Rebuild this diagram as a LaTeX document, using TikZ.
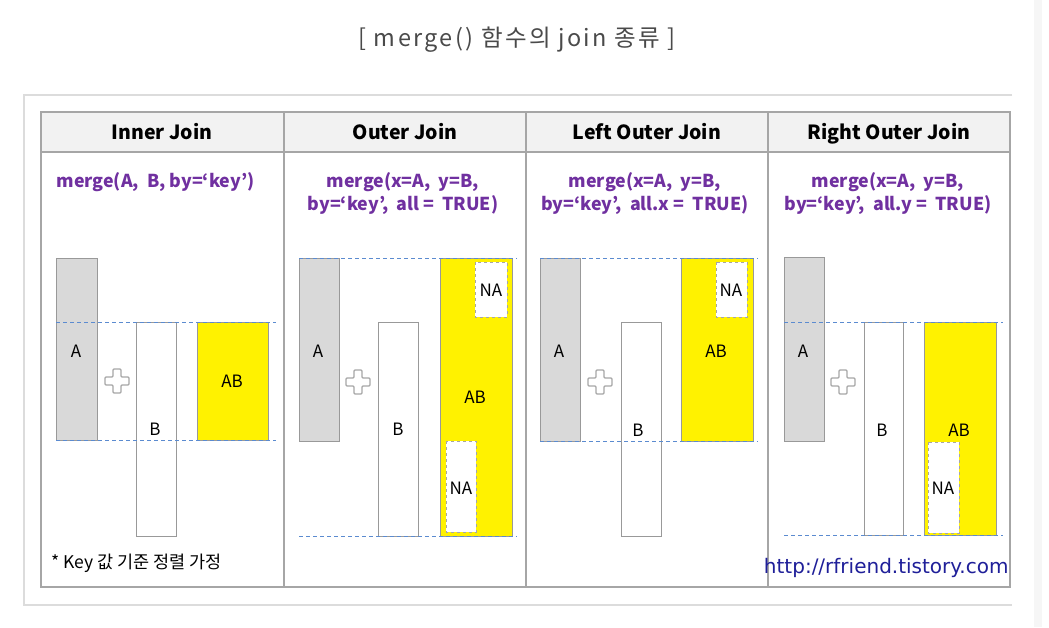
\documentclass[tikz,border=0pt]{standalone}
\usepackage{fontspec}
\setmainfont{Noto Sans CJK KR}
\newfontfamily\urlfont{DejaVu Sans}
\newfontfamily\titlefont[LetterSpace=10]{Noto Sans CJK KR}
\definecolor{framegray}{HTML}{DCDCDC}
\definecolor{gridgray}{HTML}{A6A6A6}
\definecolor{headgray}{HTML}{F2F2F2}
\definecolor{boxgray}{HTML}{D9D9D9}
\definecolor{keyblue}{HTML}{5B8BD0}
\definecolor{codepurple}{HTML}{7030A0}
\definecolor{urlnavy}{HTML}{1F1F99}
\definecolor{titlegray}{HTML}{4A4A4A}
\tikzset{
  tabline/.style={gridgray,line width=1.4pt},
  tablebox/.style={draw=gray!80,line width=0.9pt},
  nabox/.style={draw=gray!70,dashed,fill=white,line width=0.8pt},
  keyline/.style={keyblue,line width=0.9pt,dash pattern=on 4pt off 3pt},
  crossbox/.style={draw=gridgray,fill=white,line width=1.1pt,rounded corners=1pt},
  headtext/.style={anchor=base,font=\fontsize{19.5}{22}\selectfont\bfseries},
  codetext/.style={text=codepurple,font=\fontsize{17.8}{23}\selectfont\bfseries,align=center},
  boxtext/.style={font=\fontsize{17}{18}\selectfont}
}
\newcommand{\plusmark}[1]{%
  \draw[crossbox,shift={(#1)}] (-4,-12)--(4,-12)--(4,-4)--(12,-4)--(12,4)--(4,4)
    --(4,12)--(-4,12)--(-4,4)--(-12,4)--(-12,-4)--(-4,-4)--cycle;}
\begin{document}
\begin{tikzpicture}[x=1pt,y=-1pt]
\useasboundingbox (0,0) rectangle (1049,627);
\fill[white] (0,0) rectangle (1049,627);
\fill[headgray!70] (1034,0) rectangle (1042,627);
\node[text=titlegray,font=\titlefont\fontsize{23.5}{24}\selectfont] (title) at (517,40) {[ merge() 함수의 join 종류 ]};
% outer frame
\draw[framegray,line width=2pt] (1012,95)--(24,95)--(24,605)--(1012,605);
% table
\fill[headgray] (41,112) rectangle (1010,152);
\draw[tabline] (41,112) rectangle (1010,587);
\draw[tabline] (41,152)--(1010,152);
\draw[tabline] (284,112)--(284,587);
\draw[tabline] (526,112)--(526,587);
\draw[tabline] (768,112)--(768,587);
\node[headtext] (hinner) at (162,139) {Inner Join};
\node[headtext] (houter) at (405,139) {Outer Join};
\node[headtext] (hleft) at (647,139) {Left Outer Join};
\node[headtext] (hright) at (889,139) {Right Outer Join};

% Inner Join
\node[codetext,anchor=west] (cinner) at (53,182) {merge(A,\ \ B, by=‘key’)};
\draw[tablebox,fill=boxgray] (56,258) rectangle (97,440);
\draw[tablebox,fill=white] (136,322) rectangle (176,536);
\draw[tablebox,fill=yellow] (197,322) rectangle (268,440);
\draw[keyline] (56,322)--(276,322);
\draw[keyline] (56,440)--(276,440);
\plusmark{117,381}
\node[boxtext] (a1) at (76,351) {A};
\node[boxtext] (b1) at (155,429) {B};
\node[boxtext] (ab1) at (232,381) {AB};
\node[font=\fontsize{17.5}{19}\selectfont,anchor=west] (note) at (48,563) {* Key\ 값\ 기준\ 정렬\ 가정};

% Outer Join
\node[codetext] (couter) at (403,194) {merge(x=A,\ \ y=B,\\by=‘key’,\ \ all\ =\ \ TRUE)};
\draw[tablebox,fill=boxgray] (299,258) rectangle (339,441);
\draw[tablebox,fill=white] (378,322) rectangle (418,536);
\draw[tablebox,fill=yellow] (440,258) rectangle (512,536);
\draw[nabox] (475,262) rectangle (507,317);
\draw[nabox] (446,441) rectangle (476,532);
\draw[keyline] (299,258)--(517,258);
\draw[keyline] (299,536)--(517,536);
\plusmark{358,382}
\node[boxtext] (a2) at (318,351) {A};
\node[boxtext] (b2) at (398,429) {B};
\node[boxtext] (ab2) at (475,397) {AB};
\node[boxtext] (na2) at (491,290) {NA};
\node[boxtext] (na3) at (461,488) {NA};

% Left Outer Join
\node[codetext] (cleft) at (645,194) {merge(x=A,\ \ y=B,\\by=‘key’,\ \ all.x\ =\ \ TRUE)};
\draw[tablebox,fill=boxgray] (540,258) rectangle (580,441);
\draw[tablebox,fill=white] (621,322) rectangle (661,536);
\draw[tablebox,fill=yellow] (681,258) rectangle (753,441);
\draw[nabox] (716,262) rectangle (747,317);
\draw[keyline] (540,258)--(758,258);
\draw[keyline] (540,441)--(758,441);
\plusmark{600,382}
\node[boxtext] (a3) at (559,351) {A};
\node[boxtext] (b3) at (638,430) {B};
\node[boxtext] (ab3) at (716,351) {AB};
\node[boxtext] (na4) at (731,290) {NA};

% Right Outer Join
\node[codetext] (cright) at (888,194) {merge(x=A,\ \ y=B,\\by=‘key’,\ \ all.y\ =\ \ TRUE)};
\draw[tablebox,fill=boxgray] (784,257) rectangle (824,441);
\draw[tablebox,fill=white] (864,322) rectangle (903,535);
\draw[tablebox,fill=yellow] (924,322) rectangle (996,535);
\draw[nabox] (928,442) rectangle (959,533);
\draw[keyline] (784,322)--(1003,322);
\draw[keyline] (784,535)--(1003,535);
\plusmark{843,382}
\node[boxtext] (a4) at (803,351) {A};
\node[boxtext] (b4) at (882,430) {B};
\node[boxtext] (ab4) at (959,430) {AB};
\node[boxtext] (na5) at (943,488) {NA};
\node[text=urlnavy,font=\urlfont\fontsize{20}{21}\selectfont,anchor=east] (url) at (1012,568) {http://rfriend.tistory.com};
\end{tikzpicture}
\end{document}
